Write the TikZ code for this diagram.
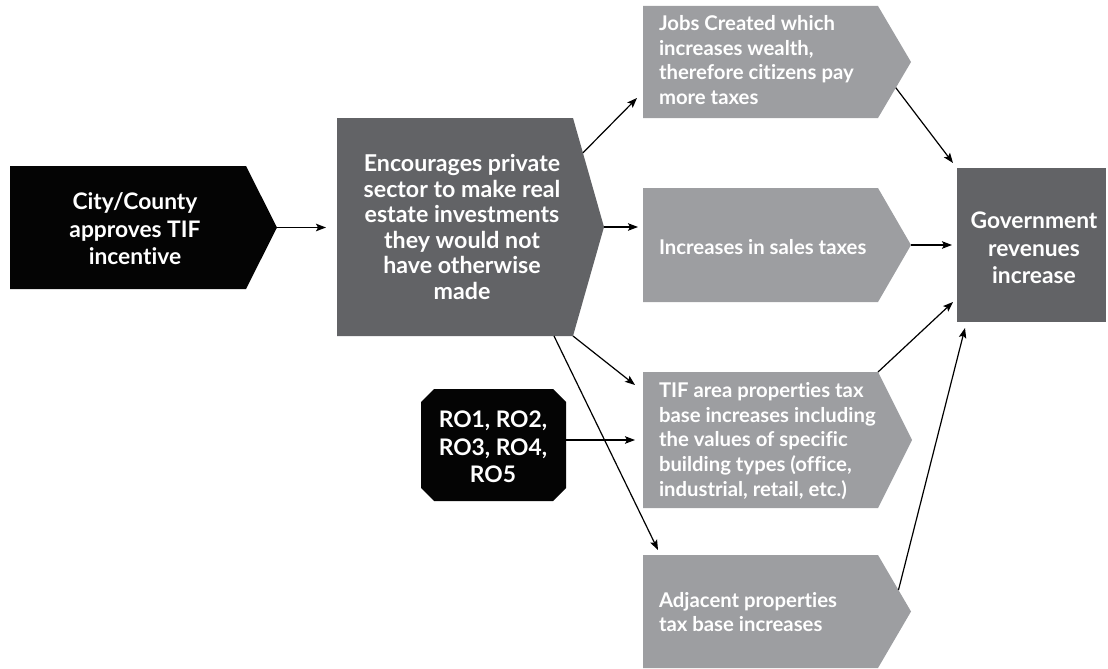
\documentclass[tikz,border=0pt]{standalone}
\usepackage{fontspec}
\setmainfont{Lato}[Ligatures=NoCommon]
\usetikzlibrary{calc,arrows.meta}
\definecolor{dgray}{RGB}{98,99,102}
\definecolor{lgray}{RGB}{157,158,161}
\definecolor{nblack}{RGB}{4,4,4}
\begin{document}
\begin{tikzpicture}[x=1pt,y=-1pt,
  every node/.style={inner sep=0pt,outer sep=0pt},
  shp/.style={rectangle,anchor=north west,minimum width=#1},
  shp/.default=235pt,
  ctxt/.style={text=white,align=center,font=\bfseries\fontsize{23.2}{25.5}\selectfont},
  btxt/.style={text=white,align=center,font=\bfseries\fontsize{22.8}{27.5}\selectfont},
  ltxt/.style={text=white,align=left,anchor=west,font=\bfseries\fontsize{20.3}{24.8}\selectfont},
  conn/.style={-{Stealth[length=10pt,width=7.5pt,inset=2pt]},line width=1.2pt,black}]
\useasboundingbox (0,0) rectangle (1108,669);

% shapes
\node[shp=236pt,minimum height=123pt] (A) at (10,166) {};
\coordinate (Atip) at ($(A.east)+(31,0)$);
\fill[nblack] (A.north west) -- (A.north east) -- (Atip) -- (A.south east) -- (A.south west) -- cycle;

\node[shp=236pt,minimum height=218pt] (B) at (337,118) {};
\coordinate (Btip) at ($(B.east)+(31,0)$);
\fill[dgray] (B.north west) -- (B.north east) -- (Btip) -- (B.south east) -- (B.south west) -- cycle;

\node[shp,minimum height=112pt] (C) at (643,6) {};
\coordinate (Ctip) at ($(C.east)+(33,0)$);
\fill[lgray] (C.north west) -- (C.north east) -- (Ctip) -- (C.south east) -- (C.south west) -- cycle;

\node[shp,minimum height=114pt] (D) at (643,188) {};
\coordinate (Dtip) at ($(D.east)+(33,0)$);
\fill[lgray] (D.north west) -- (D.north east) -- (Dtip) -- (D.south east) -- (D.south west) -- cycle;

\node[shp,minimum height=136pt] (E) at (643,372) {};
\coordinate (Etip) at ($(E.east)+(34,0)$);
\fill[lgray] (E.north west) -- (E.north east) -- (Etip) -- (E.south east) -- (E.south west) -- cycle;

\node[shp,minimum height=113pt] (F) at (643,555) {};
\coordinate (Ftip) at ($(F.east)+(33,0)$);
\fill[lgray] (F.north west) -- (F.north east) -- (Ftip) -- (F.south east) -- (F.south west) -- cycle;

\node[shp=149pt,minimum height=154pt,fill=dgray] (G) at (957,168) {};

\node[rectangle,minimum width=145pt,minimum height=112pt] (H) at (493.5,445) {};
\fill[nblack] ($(H.north west)+(13,0)$) -- ($(H.north east)+(-13,0)$) -- ($(H.north east)+(0,13)$)
  -- ($(H.south east)+(0,-13)$) -- ($(H.south east)+(-13,0)$) -- ($(H.south west)+(13,0)$)
  -- ($(H.south west)+(0,-13)$) -- ($(H.north west)+(0,13)$) -- cycle;

% texts
\node[btxt] (At) at (135,229) {City/County\\approves TIF\\incentive};
\node[ctxt] (Bt) at (462,227) {Encourages private\\sector to make real\\estate investments\\they would not\\have otherwise\\made};
\node[ltxt] (Ct) at (659,60) {Jobs Created which\\increases wealth,\\therefore citizens pay\\more taxes};
\node[ltxt] (Dt) at (659,247) {Increases in sales taxes};
\node[ltxt] (Et) at (659,441) {TIF area properties tax\\base increases including\\the values of specific\\building types (office,\\industrial, retail, etc.)};
\node[ltxt] (Ft) at (659,612) {Adjacent properties\\tax base increases};
\node[btxt] (Gt) at (1034,248) {Government\\revenues\\increase};
\node[btxt] (Ht) at (493,447) {RO1, RO2,\\RO3, RO4,\\RO5};

% connectors
\draw[conn] (Atip) -- ($(B.west|-Atip)+(-11,0)$);
\draw[conn] ($(B.north east)!0.32!(Btip)$) -- ($(C.south west)+(-6,-20)$);
\draw[conn] (Btip) -- ($(D.west|-Btip)+(-5,0)$);
\draw[conn] (B.south east) -- ($(E.north west)+(-8,13)$);
\draw[conn] ($(B.south east)+(-19,0)$) -- ($(F.north west)+(15,-5)$);
\draw[conn] (H.east|-Etip) -- ($(E.west|-Etip)+(-8,0)$);
\draw[conn] ($(C.south east)!0.54!(Ctip)$) -- ($(G.north west)+(-4,-5)$);
\draw[conn] (Dtip) -- ($(G.west|-Dtip)+(-5,0)$);
\draw[conn] (E.north east) -- ($(G.south west)+(-4,-20)$);
\draw[conn] ($(F.north east)!0.62!(Ftip)$) -- ($(G.south west)+(8,6)$);
\end{tikzpicture}
\end{document}
